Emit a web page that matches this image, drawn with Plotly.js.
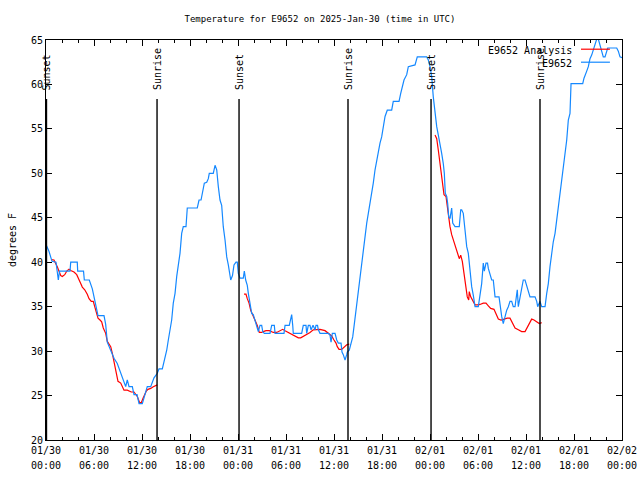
<!DOCTYPE html>
<html>
<head>
<meta charset="utf-8">
<script src="https://cdn.plot.ly/plotly-3.0.1.min.js"></script>
<style>html,body{margin:0;padding:0;background:#fff;}#chart{width:640px;height:480px;}</style>
</head>
<body>
<div id="chart"></div>
<script>
// Hours since 2025-01-30 00:00 UTC
const obsHours = [0.00,0.38,0.75,1.25,1.44,1.54,1.69,3.00,3.09,3.91,3.96,4.69,4.79,5.41,5.79,6.00,6.21,6.50,7.25,7.46,7.66,8.09,8.50,8.91,9.34,9.75,9.96,10.16,10.38,10.79,11.00,11.38,11.63,12.04,12.25,12.66,13.09,13.29,13.50,13.91,14.13,14.54,14.75,15.09,15.29,15.50,15.71,15.91,16.13,16.34,16.54,16.75,16.96,17.16,17.50,17.66,18.91,19.13,19.38,19.59,19.79,20.09,20.29,20.41,20.91,21.13,21.34,21.54,21.75,21.96,22.16,22.38,22.59,22.79,23.00,23.09,23.31,23.50,23.75,23.91,24.04,24.25,24.66,24.79,24.96,25.16,25.29,25.50,25.71,25.91,26.13,26.34,26.54,26.75,26.96,27.09,27.29,28.00,28.21,28.54,28.63,29.75,29.88,30.41,30.59,30.71,30.84,30.91,31.96,32.16,32.50,32.59,32.79,33.00,33.13,33.38,33.63,33.75,33.94,34.04,34.25,35.29,35.50,35.63,35.79,36.13,36.34,36.54,36.88,37.00,37.16,37.38,37.59,37.66,37.91,38.09,38.34,38.50,38.75,39.04,39.25,39.46,39.66,39.88,40.09,40.29,40.50,40.71,40.91,41.13,41.34,41.54,41.75,41.96,42.16,42.38,42.66,43.21,43.41,44.13,44.34,44.54,44.75,45.09,45.29,46.13,46.41,47.59,47.79,48.00,48.21,48.41,48.63,48.84,49.04,49.25,49.46,49.66,49.79,49.91,50.09,50.21,50.34,50.50,50.71,50.84,51.13,51.66,51.84,51.96,52.16,52.38,52.59,52.79,53.00,53.21,53.41,53.63,54.04,54.25,54.46,54.66,54.79,55.00,55.19,55.29,55.50,55.71,55.91,56.13,56.63,56.75,56.96,57.16,57.38,57.59,57.79,58.00,58.21,58.41,58.63,58.75,58.91,59.04,59.25,59.46,59.66,59.88,60.09,60.29,60.50,61.13,61.34,61.46,61.75,61.96,62.38,62.59,62.79,63.00,63.21,63.41,63.63,63.84,64.04,64.25,64.46,64.66,64.88,65.09,65.29,65.50,65.63,67.09,67.25,67.46,67.59,67.79,68.00,68.21,68.41,68.63,68.84,69.04,69.25,69.46,69.66,69.88,70.09,70.21,71.34,71.54,71.75,72.00];
const obsTemps = [42.0,41.2,40.1,40.0,38.7,38.0,39.0,39.0,40.0,40.0,39.0,39.0,38.0,38.0,37.0,36.1,35.0,34.0,34.0,33.0,31.0,30.1,29.2,28.6,27.5,26.4,26.0,26.75,26.0,26.0,25.1,25.1,24.1,24.1,24.7,26.0,26.0,26.4,27.0,27.5,28.0,28.0,28.8,30.1,31.25,32.4,33.5,35.4,36.5,38.4,39.5,41.0,43.25,44.0,44.0,46.1,46.1,47.0,47.0,47.9,48.9,49.0,49.4,50.0,50.0,50.9,50.4,48.5,47.0,46.4,44.0,42.5,40.6,39.7,38.4,38.0,38.5,39.7,40.0,40.0,38.75,38.2,38.2,39.0,38.0,37.4,36.5,35.4,34.25,34.1,33.5,32.9,32.2,32.9,32.9,32.2,32.0,32.0,32.9,32.9,32.0,32.0,32.9,32.9,33.5,34.1,32.9,32.0,32.0,32.9,32.9,32.0,32.9,32.9,32.4,32.9,32.4,32.9,32.9,32.4,32.0,32.0,31.8,31.0,32.0,32.0,31.25,30.9,30.9,29.9,29.6,29.0,29.6,29.9,30.1,30.9,31.6,32.75,34.6,37.0,38.8,40.4,41.75,43.25,44.4,45.5,46.6,47.75,48.9,50.4,51.5,52.6,53.4,54.1,55.25,56.4,57.1,57.1,58.1,58.1,59.0,59.75,60.5,61.1,62.0,62.2,63.1,63.1,62.75,62.0,60.9,58.6,56.75,55.25,54.3,53.4,52.25,51.1,50.0,47.75,47.4,46.6,45.1,44.9,46.1,44.4,44.0,44.0,45.9,45.9,45.5,43.6,41.75,41.0,38.75,37.25,36.3,35.0,35.0,36.5,37.6,39.9,39.0,39.9,39.9,39.3,38.75,38.0,38.0,36.1,36.1,35.0,33.9,33.1,33.9,34.6,35.0,35.6,35.6,35.0,35.0,36.1,36.9,35.0,36.1,36.9,38.0,38.0,37.4,36.9,36.1,36.1,35.6,35.0,35.6,35.0,35.0,36.5,37.6,39.5,41.0,42.3,43.25,44.75,46.6,48.1,49.6,51.1,52.25,53.75,56.0,56.75,60.1,60.1,60.7,61.1,61.5,62.0,62.9,63.3,63.9,64.4,65.1,65.1,64.4,63.5,63.1,63.1,63.9,64.1,64.1,63.75,63.1,63.0];

const anaHours = [0.66,1.00,1.41,1.63,1.84,2.04,2.34,2.59,2.88,3.16,3.50,3.84,4.13,4.34,4.54,4.84,5.16,5.38,5.66,5.91,6.09,6.34,6.50,6.75,6.96,7.16,7.46,7.66,7.88,8.09,8.29,8.50,8.71,9.00,9.34,9.54,9.75,10.16,10.38,10.66,11.00,11.21,11.41,11.71,11.91,12.13,12.34,12.54,12.75,13.09,13.41,13.71,13.91,
  19.0,
  24.75,25.00,25.16,25.38,25.59,25.84,26.13,26.41,26.66,26.96,27.16,27.50,27.91,28.21,28.41,28.84,29.25,29.59,29.88,30.29,30.71,31.13,31.54,31.84,32.25,32.66,33.00,33.41,33.84,34.25,34.88,35.29,35.71,36.00,36.25,36.41,36.63,36.96,37.25,37.59,37.91,
  43.0,
  48.63,48.84,49.04,49.25,49.46,49.59,49.75,50.00,50.16,50.29,50.50,50.71,50.91,51.13,51.41,51.66,51.84,52.04,52.25,52.46,52.66,52.84,52.91,53.09,53.34,53.63,53.91,54.25,54.66,55.00,55.29,55.59,56.00,56.25,56.54,56.88,57.25,57.66,58.00,58.34,58.63,59.04,59.46,59.88,60.09,60.41,60.71,61.00,61.34,61.66,61.96];
const anaTemps = [40.3,40.25,39.5,39.0,38.5,38.4,38.6,39.0,39.2,39.05,38.9,38.6,38.1,37.6,37.2,36.9,36.4,35.9,35.6,35.6,35.0,34.1,33.7,33.5,33.3,32.6,32.0,31.1,30.7,30.5,29.75,28.8,27.7,26.6,26.4,26.0,25.6,25.6,25.5,25.4,25.4,25.1,24.9,24.2,24.2,24.7,25.1,25.5,25.7,25.8,26.0,26.1,26.2,
  null,
  36.4,36.4,35.9,35.4,34.6,34.1,33.5,32.9,32.1,32.1,32.2,32.3,32.3,32.2,32.1,32.1,32.3,32.45,32.3,32.1,31.9,31.7,31.5,31.5,31.7,31.9,32.1,32.4,32.4,32.45,32.3,32.0,31.7,31.25,30.9,30.5,30.2,30.2,30.4,30.7,30.8,
  null,
  54.3,53.9,52.6,51.1,49.25,48.1,47.6,47.4,46.25,45.1,44.0,43.1,42.5,41.75,41.0,40.4,40.8,40.1,38.75,37.25,36.1,35.75,36.7,36.1,35.6,35.2,35.2,35.25,35.4,35.4,35.1,34.8,34.7,34.25,33.6,33.5,33.6,33.7,33.7,33.1,32.6,32.4,32.2,32.2,32.6,33.1,33.6,33.5,33.3,33.1,33.2];

const sunHours = [0.06,13.88,24.13,37.75,48.13,61.75];
const sunLabels = ['Sunset','Sunrise','Sunset','Sunrise','Sunset','Sunrise'];

const tickHours = [0,6,12,18,24,30,36,42,48,54,60,66,72];
const tickDates = ['01/30','01/30','01/30','01/30','01/31','01/31','01/31','01/31','02/01','02/01','02/01','02/01','02/02'];
const tickTimes = ['00:00','06:00','12:00','18:00','00:00','06:00','12:00','18:00','00:00','06:00','12:00','18:00','00:00'];

const seriesNames = ['E9652 Analysis','E9652'];
const seriesColors = ['#ff0000','#1488ff'];

const FONT = 'DejaVu Sans Mono, Liberation Mono, monospace';

const tickText = tickDates.map((d,i) =>
  '<span style="font-size:10px">' + d + '</span><br><span style="font-size:10px">' + tickTimes[i] + '</span>');

const traces = [
  {x: anaHours, y: anaTemps, type:'scatter', mode:'lines', name: seriesNames[0], connectgaps:false,
   line:{color:seriesColors[0], width:1.2}},
  {x: obsHours, y: obsTemps, type:'scatter', mode:'lines', name: seriesNames[1],
   line:{color:seriesColors[1], width:1.2}}
];

const shapes = sunHours.map(h => ({type:'line', xref:'x', yref:'paper', x0:h, x1:h, y0:0, y1:0.8525,
  line:{color:'#000', width:1.4}}));
const annotations = sunHours.map((h,i) => ({xref:'x', yref:'paper', x:h, y:0.87, text:sunLabels[i],
  textangle:-90, showarrow:false, xanchor:'center', yanchor:'bottom', font:{family:FONT, size:10, color:'#000'}}));

// legend (gnuplot style: text then sample line)
const legY = [0.975, 0.9425];
seriesNames.forEach((n,i) => {
  annotations.push({xref:'paper', yref:'paper', x:0.9167, y:legY[i], text:n, showarrow:false,
    xanchor:'right', yanchor:'middle', font:{family:FONT, size:10, color:'#000'}});
  shapes.push({type:'line', xref:'paper', yref:'paper', x0:0.9288, x1:0.979, y0:legY[i]+0.002, y1:legY[i]+0.002,
    line:{color:seriesColors[i], width:1.2}});
});

const layout = {
  width:640, height:480,
  margin:{l:46, r:18, t:40, b:40, pad:0},
  paper_bgcolor:'#fff', plot_bgcolor:'#fff',
  font:{family:FONT, size:10, color:'#000'},
  showlegend:false,
  title:{text:'Temperature for E9652 on 2025-Jan-30 (time in UTC)', x:0.5, xanchor:'center', y:1-19/480, yanchor:'middle',
    font:{family:FONT, size:9, color:'#000'}},
  xaxis:{range:[0,72], tickmode:'array', tickvals:tickHours, ticktext:tickText,
    ticks:'inside', ticklen:6, tickwidth:1, tickcolor:'#000',
    minor:{tickmode:'linear', tick0:0, dtick:2, ticks:'inside', ticklen:3, tickcolor:'#000'},
    showline:true, linecolor:'#000', linewidth:1, mirror:'allticks',
    showgrid:false, zeroline:false, tickfont:{family:FONT, size:11}},
  yaxis:{range:[20,65], tickmode:'linear', tick0:20, dtick:5,
    ticks:'inside', ticklen:6, tickwidth:1, tickcolor:'#000',
    showline:true, linecolor:'#000', linewidth:1, mirror:'allticks',
    showgrid:false, zeroline:false, tickfont:{family:FONT, size:10},
    title:{text:'degrees F', font:{family:FONT, size:10}, standoff:12}},
  shapes: shapes,
  annotations: annotations
};

Plotly.newPlot('chart', traces, layout, {displayModeBar:false, staticPlot:true});
</script>
</body>
</html>
